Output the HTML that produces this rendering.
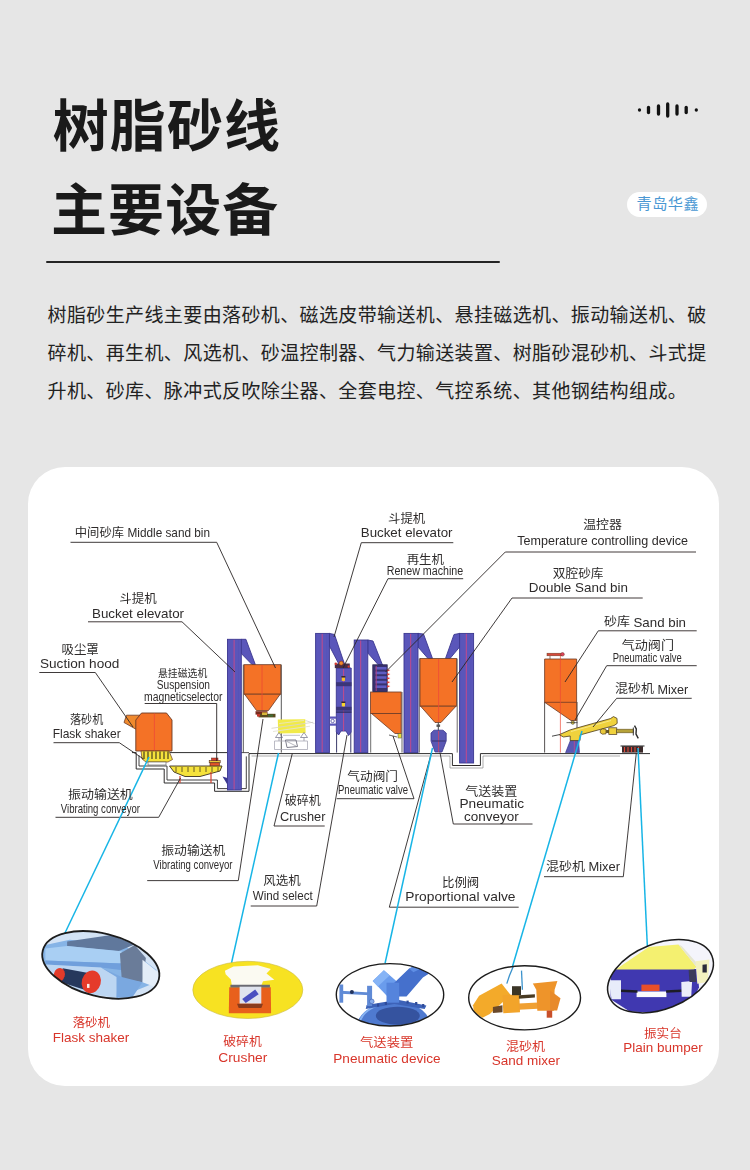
<!DOCTYPE html>
<html lang="zh-CN">
<head>
<meta charset="utf-8">
<title>树脂砂线主要设备</title>
<style>
*{margin:0;padding:0;box-sizing:border-box}
html,body{width:750px;height:1170px;background:#e6e6e6;overflow:hidden}
body{position:relative;font-family:"Liberation Sans","Noto Sans CJK SC",sans-serif;color:#1c1c1c}
.title{position:absolute;left:52.7px;top:84.2px;font-size:56px;line-height:85px;font-weight:700;color:#1a1a1a;white-space:nowrap;letter-spacing:1.1px}
.t2{left:51px;top:167.8px}
.rule{position:absolute;left:46.3px;top:261.3px;width:453.8px;height:1.9px;background:#242424;border-radius:1px}
.wave{position:absolute;left:630px;top:95px;width:80px;height:30px}
.pill{position:absolute;left:627px;top:192px;width:80px;height:25px;border-radius:13px;background:#fff;color:#4a98d3;font-size:15.2px;line-height:24px;text-align:center;letter-spacing:0.5px;padding-left:1.7px;white-space:nowrap}
.desc{position:absolute;left:47.6px;top:297px;width:690px;font-size:19px;letter-spacing:0.38px;line-height:38px;color:#222;white-space:nowrap}
.card{position:absolute;left:28.4px;top:466.8px;width:690.6px;height:619px;border-radius:37px;background:#fff;overflow:hidden}
.card svg{position:absolute;left:-28.4px;top:-466.8px}
</style>
</head>
<body>
<div class="title">树脂砂线</div>
<div class="title t2">主要设备</div>
<div class="rule"></div>
<svg class="wave" viewBox="630 95 80 30">
<g stroke="#111" stroke-width="3.3" stroke-linecap="round">
<line x1="639.5" y1="110" x2="639.5" y2="110"/>
<line x1="648.5" y1="107.5" x2="648.5" y2="112.5"/>
<line x1="658.5" y1="106" x2="658.5" y2="114"/>
<line x1="667.7" y1="104" x2="667.7" y2="116"/>
<line x1="677" y1="106" x2="677" y2="114"/>
<line x1="686.2" y1="107.5" x2="686.2" y2="112.5"/>
<line x1="696.3" y1="110" x2="696.3" y2="110"/>
</g>
</svg>
<div class="pill">青岛华鑫</div>
<div class="desc">树脂砂生产线主要由落砂机、磁选皮带输送机、悬挂磁选机、振动输送机、破<br>碎机、再生机、风选机、砂温控制器、气力输送装置、树脂砂混砂机、斗式提<br>升机、砂库、脉冲式反吹除尘器、全套电控、气控系统、其他钢结构组成。</div>
<div class="card">
<svg width="750" height="1170" viewBox="0 0 750 1170" font-family="'Liberation Sans','Noto Sans CJK SC',sans-serif">
<defs><filter id="soft" x="-2%" y="-2%" width="104%" height="104%"><feGaussianBlur stdDeviation="0.4"/></filter></defs>
<g filter="url(#soft)">
<g id="ground">
<polyline points="132.0,752.6 136.2,752.6 136.2,769.0 164.2,769.0 164.2,783.0 214.6,783.0 214.6,791.3 249.0,791.3 249.0,753.6 452.4,753.6 452.4,765.5 480.4,765.5 480.4,753.6 650.0,753.6" fill="none" stroke="#2e2c2c" stroke-width="1.0"/>
<polyline points="139.0,755.5 139.0,766.0 167.0,766.0 167.0,780.0 217.4,780.0 217.4,788.6 246.3,788.6 246.3,756.4" fill="none" stroke="#2e2c2c" stroke-width="0.9"/>
<polyline points="251.5,756.0 450.0,756.0 450.0,768.0 483.0,768.0 483.0,756.0 620.0,756.0" fill="none" stroke="#777" stroke-width="0.6"/>
<line x1="170.0" y1="752.6" x2="227.0" y2="752.6" stroke="#2e2c2c" stroke-width="1.0"/>
<line x1="241.0" y1="752.6" x2="249.0" y2="752.6" stroke="#2e2c2c" stroke-width="0.8"/>
</g>
<g id="elev">
<polygon points="241.3,639.3 245.9,639.3 255.3,664.5 252.0,664.5 241.3,653.5" fill="#5a56ba" stroke="#3b3790" stroke-width="0.9" stroke-linejoin="round"/>
<rect x="227.5" y="639.3" width="13.8" height="150.7" fill="#5a56ba" stroke="#3b3790" stroke-width="0.9"/>
<line x1="234.1" y1="639.8" x2="234.1" y2="789.5" stroke="#cf4a86" stroke-width="0.9"/>
<line x1="238.5" y1="640.3" x2="238.5" y2="789.0" stroke="#5652b8" stroke-width="0.8"/>
<polygon points="329.4,633.4 334.5,634.5 344.5,664.0 341.0,668.0 329.4,646.0" fill="#5a56ba" stroke="#3b3790" stroke-width="0.9" stroke-linejoin="round"/>
<rect x="315.6" y="633.4" width="13.8" height="119.2" fill="#5a56ba" stroke="#3b3790" stroke-width="0.9"/>
<line x1="322.2" y1="633.9" x2="322.2" y2="752.1" stroke="#cf4a86" stroke-width="0.9"/>
<line x1="326.6" y1="634.4" x2="326.6" y2="751.6" stroke="#5652b8" stroke-width="0.8"/>
<polygon points="367.8,640.0 373.0,641.0 382.5,665.0 378.5,665.0 367.8,653.0" fill="#5a56ba" stroke="#3b3790" stroke-width="0.9" stroke-linejoin="round"/>
<rect x="354.2" y="640.0" width="13.6" height="112.6" fill="#5a56ba" stroke="#3b3790" stroke-width="0.9"/>
<line x1="360.7" y1="640.5" x2="360.7" y2="752.1" stroke="#cf4a86" stroke-width="0.9"/>
<line x1="365.0" y1="641.0" x2="365.0" y2="751.6" stroke="#5652b8" stroke-width="0.8"/>
<polygon points="418.0,633.4 423.5,634.0 432.5,658.5 428.0,658.5 418.0,647.0" fill="#5a56ba" stroke="#3b3790" stroke-width="0.9" stroke-linejoin="round"/>
<rect x="404.0" y="633.4" width="14.0" height="119.2" fill="#5a56ba" stroke="#3b3790" stroke-width="0.9"/>
<line x1="410.7" y1="633.9" x2="410.7" y2="752.1" stroke="#cf4a86" stroke-width="0.9"/>
<line x1="415.2" y1="634.4" x2="415.2" y2="751.6" stroke="#5652b8" stroke-width="0.8"/>
<polygon points="459.6,633.4 454.0,634.5 445.5,658.5 450.0,658.5 459.6,647.0" fill="#5a56ba" stroke="#3b3790" stroke-width="0.9" stroke-linejoin="round"/>
<rect x="459.6" y="633.4" width="14.0" height="129.6" fill="#5a56ba" stroke="#3b3790" stroke-width="0.9"/>
<line x1="466.3" y1="633.9" x2="466.3" y2="762.5" stroke="#cf4a86" stroke-width="0.9"/>
<line x1="470.8" y1="634.4" x2="470.8" y2="762.0" stroke="#5652b8" stroke-width="0.8"/>
</g>
<g id="bins">
<line x1="243.3" y1="664.7" x2="243.3" y2="752.6" stroke="#2e2c2c" stroke-width="0.8"/>
<line x1="281.3" y1="664.7" x2="281.3" y2="752.6" stroke="#2e2c2c" stroke-width="0.8"/>
<rect x="244.0" y="664.7" width="36.8" height="29.5" fill="#f47226" stroke="#6b3a26" stroke-width="0.8"/>
<polygon points="244.6,694.2 280.2,694.2 268.5,710.5 256.5,710.5" fill="#f47226" stroke="#6b3a26" stroke-width="0.8" stroke-linejoin="round"/>
<line x1="262.0" y1="665.0" x2="262.0" y2="710.0" stroke="#ee4a36" stroke-width="0.8"/>
<rect x="255.5" y="711.2" width="12.0" height="3.4" fill="#7a2a1e"/>
<rect x="258.5" y="713.8" width="17.0" height="3.6" fill="#5a4a1e"/>
<rect x="262.0" y="712.4" width="5.0" height="2.6" fill="#d8b83a"/>
<rect x="268.0" y="714.6" width="5.0" height="2.0" fill="#3e6a34"/>
<rect x="257.0" y="714.0" width="3.0" height="2.6" fill="#c2382a"/>
<line x1="370.7" y1="713.0" x2="370.7" y2="752.6" stroke="#2e2c2c" stroke-width="0.7"/>
<line x1="402.0" y1="692.0" x2="402.0" y2="752.6" stroke="#2e2c2c" stroke-width="0.7"/>
<rect x="370.6" y="692.0" width="30.6" height="21.5" fill="#f47226" stroke="#6b3a26" stroke-width="0.8"/>
<polygon points="371.5,713.5 401.2,713.5 401.2,733.5 395.0,733.5" fill="#f47226" stroke="#6b3a26" stroke-width="0.8" stroke-linejoin="round"/>
<line x1="419.3" y1="658.6" x2="419.3" y2="752.6" stroke="#2e2c2c" stroke-width="0.7"/>
<line x1="457.2" y1="658.6" x2="457.2" y2="752.6" stroke="#2e2c2c" stroke-width="0.7"/>
<rect x="420.0" y="658.6" width="36.5" height="47.6" fill="#f47226" stroke="#6b3a26" stroke-width="0.8"/>
<polygon points="420.6,706.2 456.0,706.2 441.0,722.5 435.0,722.5" fill="#f47226" stroke="#6b3a26" stroke-width="0.8" stroke-linejoin="round"/>
<line x1="438.6" y1="659.0" x2="438.6" y2="722.0" stroke="#ee4a36" stroke-width="0.8"/>
<line x1="544.6" y1="702.0" x2="544.6" y2="752.6" stroke="#2e2c2c" stroke-width="0.8"/>
<line x1="577.0" y1="702.0" x2="577.0" y2="752.6" stroke="#2e2c2c" stroke-width="0.8"/>
<polygon points="544.6,659.0 576.6,659.0 576.6,720.5 571.0,720.5 544.6,702.3" fill="#f47226" stroke="#6b3a26" stroke-width="0.8" stroke-linejoin="round"/>
<line x1="544.6" y1="702.3" x2="576.6" y2="702.3" stroke="#6b3a26" stroke-width="0.8"/>
<line x1="560.4" y1="654.0" x2="560.4" y2="752.6" stroke="#ee4a36" stroke-width="0.7"/>
<rect x="547.0" y="653.2" width="15.0" height="2.6" fill="#d84a3a" stroke="#6b3a26" stroke-width="0.5"/>
<circle cx="562.5" cy="654.3" r="1.8" fill="#e0405a" stroke="#6b3a26" stroke-width="0.5"/>
<line x1="550.0" y1="656.0" x2="550.0" y2="659.0" stroke="#6b3a26" stroke-width="0.7"/>
</g>
<g id="mach">
<polygon points="126.5,715.2 140.0,715.2 136.5,729.5 124.0,722.5" fill="#f08a2e" stroke="#6b3a26" stroke-width="0.8" stroke-linejoin="round"/>
<polygon points="135.8,720.0 141.5,713.0 166.5,713.0 172.0,720.0 172.0,751.0 135.8,751.0" fill="#f47226" stroke="#6b3a26" stroke-width="0.9" stroke-linejoin="round"/>
<line x1="154.4" y1="713.5" x2="154.4" y2="751.0" stroke="#ee4a36" stroke-width="0.8"/>
<polygon points="141.0,751.0 169.0,751.0 172.5,759.5 168.0,762.0 146.0,762.0 142.0,759.0" fill="#f5e23a" stroke="#6b3a26" stroke-width="0.7" stroke-linejoin="round"/>
<line x1="144.0" y1="751.5" x2="144.0" y2="759.0" stroke="#4a4020" stroke-width="1.2"/>
<line x1="148.0" y1="751.5" x2="148.0" y2="759.0" stroke="#4a4020" stroke-width="1.2"/>
<line x1="152.0" y1="751.5" x2="152.0" y2="759.0" stroke="#4a4020" stroke-width="1.2"/>
<line x1="156.0" y1="751.5" x2="156.0" y2="759.0" stroke="#4a4020" stroke-width="1.2"/>
<line x1="160.0" y1="751.5" x2="160.0" y2="759.0" stroke="#4a4020" stroke-width="1.2"/>
<line x1="164.0" y1="751.5" x2="164.0" y2="759.0" stroke="#4a4020" stroke-width="1.2"/>
<line x1="168.0" y1="751.5" x2="168.0" y2="759.0" stroke="#4a4020" stroke-width="1.2"/>
<rect x="148.0" y="762.0" width="18.0" height="3.0" fill="#fff" stroke="#555" stroke-width="0.6"/>
<polygon points="169.5,766.0 222.0,766.0 220.0,771.0 200.0,776.5 185.0,776.5 174.0,772.0" fill="#f5e23a" stroke="#3a3020" stroke-width="0.9" stroke-linejoin="round"/>
<line x1="176.0" y1="767.0" x2="176.0" y2="772.0" stroke="#5a4a20" stroke-width="0.9"/>
<line x1="182.0" y1="767.0" x2="182.0" y2="772.0" stroke="#5a4a20" stroke-width="0.9"/>
<line x1="188.0" y1="767.0" x2="188.0" y2="772.0" stroke="#5a4a20" stroke-width="0.9"/>
<line x1="194.0" y1="767.0" x2="194.0" y2="772.0" stroke="#5a4a20" stroke-width="0.9"/>
<line x1="200.0" y1="767.0" x2="200.0" y2="772.0" stroke="#5a4a20" stroke-width="0.9"/>
<line x1="206.0" y1="767.0" x2="206.0" y2="772.0" stroke="#5a4a20" stroke-width="0.9"/>
<line x1="212.0" y1="767.0" x2="212.0" y2="772.0" stroke="#5a4a20" stroke-width="0.9"/>
<line x1="218.0" y1="767.0" x2="218.0" y2="772.0" stroke="#5a4a20" stroke-width="0.9"/>
<line x1="180.0" y1="776.0" x2="180.0" y2="783.0" stroke="#d8402e" stroke-width="1.2"/>
<line x1="211.0" y1="772.0" x2="211.0" y2="783.0" stroke="#d8402e" stroke-width="1.2"/>
<polygon points="222.5,776.5 227.3,778.0 227.3,784.5" fill="#3b3790"/>
<rect x="209.2" y="760.6" width="11.0" height="2.2" fill="#e8c83a" stroke="#5a2a20" stroke-width="0.6"/>
<rect x="210.0" y="762.8" width="9.5" height="3.0" fill="#e4552a" stroke="#5a2a20" stroke-width="0.6"/>
<rect x="211.5" y="758.0" width="6.5" height="2.6" fill="#d8402e" stroke="#5a2a20" stroke-width="0.5"/>
<polygon points="277.8,719.6 305.3,719.2 305.6,733.0 278.2,733.6" fill="#f1ea4a"/>
<line x1="271.5" y1="728.3" x2="313.0" y2="722.3" stroke="#d9d6c6" stroke-width="0.9"/>
<line x1="273.0" y1="731.5" x2="310.0" y2="726.2" stroke="#e4e1d2" stroke-width="0.9"/>
<line x1="279.0" y1="723.6" x2="304.0" y2="720.4" stroke="#e9e6c8" stroke-width="0.8"/>
<line x1="305.5" y1="720.5" x2="314.5" y2="723.5" stroke="#c9c9c9" stroke-width="0.7"/>
<polyline points="275.5,737.5 279.0,732.5 282.5,737.5 275.5,737.5" fill="none" stroke="#6f6f86" stroke-width="0.7"/>
<polyline points="300.5,737.5 304.0,732.5 307.5,737.5 300.5,737.5" fill="none" stroke="#6f6f86" stroke-width="0.7"/>
<line x1="279.0" y1="737.5" x2="279.0" y2="741.0" stroke="#8a8a9a" stroke-width="0.8"/>
<line x1="304.0" y1="737.5" x2="304.0" y2="741.0" stroke="#8a8a9a" stroke-width="0.8"/>
<polyline points="274.5,741.0 307.5,741.0 307.5,749.5 274.5,749.5 274.5,741.0" fill="none" stroke="#a9a9b6" stroke-width="0.8"/>
<polyline points="285.5,740.0 296.0,740.0 297.5,746.5 287.0,747.5 285.5,740.0" fill="none" stroke="#70707f" stroke-width="0.9"/>
<line x1="287.0" y1="741.5" x2="296.0" y2="746.0" stroke="#9a9aa5" stroke-width="0.7"/>
<line x1="283.0" y1="735.3" x2="300.0" y2="735.3" stroke="#a5a5b0" stroke-width="0.7"/>
<line x1="336.6" y1="732.0" x2="336.6" y2="752.6" stroke="#3a3a6a" stroke-width="1.0"/>
<line x1="350.8" y1="732.0" x2="350.8" y2="752.6" stroke="#3a3a6a" stroke-width="1.0"/>
<polygon points="336.3,668.0 351.2,668.0 351.2,732.0 348.6,735.5 346.0,731.0 341.0,731.0 338.6,735.0 336.3,732.0" fill="#5a56ba" stroke="#3b3790" stroke-width="0.9" stroke-linejoin="round"/>
<line x1="343.6" y1="669.0" x2="343.6" y2="731.0" stroke="#cf4a86" stroke-width="0.9"/>
<rect x="336.0" y="682.2" width="15.5" height="4.0" fill="#3b3578"/>
<rect x="336.0" y="706.8" width="15.5" height="3.8" fill="#3b3578"/>
<rect x="336.0" y="711.5" width="15.5" height="1.2" fill="#2c2a5a"/>
<rect x="341.8" y="677.3" width="3.2" height="3.6" fill="#f8c22e"/>
<rect x="341.4" y="676.0" width="4.0" height="1.5" fill="#3a2a2a"/>
<rect x="341.8" y="702.8" width="3.2" height="3.6" fill="#f8d62e"/>
<rect x="341.4" y="701.5" width="4.0" height="1.5" fill="#3a2a2a"/>
<rect x="334.8" y="663.5" width="15.0" height="4.6" fill="#4a2f45"/>
<circle cx="341.2" cy="663.2" r="2.1" fill="#f08a2a" stroke="#7a2a20" stroke-width="0.6"/>
<circle cx="335.8" cy="663.8" r="1.2" fill="#d8382e"/>
<circle cx="348.6" cy="666.6" r="1.1" fill="#d8382e"/>
<rect x="330.0" y="716.5" width="6.0" height="2.2" fill="#5a56ba"/>
<rect x="330.0" y="723.5" width="6.0" height="2.2" fill="#5a56ba"/>
<circle cx="332.6" cy="721" r="1.7" fill="#fff" stroke="#4a46a0" stroke-width="0.8"/>
<rect x="372.8" y="664.8" width="14.4" height="26.8" fill="#37326e" stroke="#2a2650" stroke-width="0.8"/>
<rect x="375.5" y="667.0" width="11.0" height="2.6" fill="#5f5bc2"/>
<rect x="375.5" y="671.6" width="11.0" height="2.6" fill="#5f5bc2"/>
<rect x="375.5" y="676.2" width="11.0" height="2.6" fill="#5f5bc2"/>
<rect x="375.5" y="680.8" width="11.0" height="2.6" fill="#5f5bc2"/>
<rect x="375.5" y="685.4" width="11.0" height="2.6" fill="#5f5bc2"/>
<line x1="376.2" y1="666.0" x2="376.2" y2="691.0" stroke="#b8407a" stroke-width="0.9"/>
<polygon points="387.2,669.2 390.3,670.1 387.2,671.8" fill="#e0352e"/>
<polygon points="387.2,673.2 390.3,674.1 387.2,675.8" fill="#e0352e"/>
<polygon points="387.2,677.2 390.3,678.1 387.2,679.8" fill="#e0352e"/>
<polygon points="387.2,681.2 390.3,682.1 387.2,683.8" fill="#e0352e"/>
<polygon points="387.2,685.2 390.3,686.1 387.2,687.8" fill="#e0352e"/>
<rect x="398.0" y="733.5" width="3.4" height="4.5" fill="#e8e03a" stroke="#444" stroke-width="0.5"/>
<polyline points="389.0,735.0 397.0,737.0" fill="none" stroke="#444" stroke-width="0.8"/>
<line x1="438.3" y1="722.5" x2="438.3" y2="731.0" stroke="#444" stroke-width="1.0"/>
<rect x="436.5" y="724.5" width="3.6" height="2.4" fill="#555"/>
<polygon points="431.0,733.0 434.0,730.2 443.0,730.2 446.2,733.0 446.2,741.0 442.0,752.0 435.0,752.0 431.0,741.0" fill="#5a58b4" stroke="#3b3790" stroke-width="0.8" stroke-linejoin="round"/>
<line x1="438.6" y1="731.0" x2="438.6" y2="752.0" stroke="#e0405a" stroke-width="0.7"/>
<line x1="432.0" y1="741.0" x2="445.5" y2="741.0" stroke="#2c2a5a" stroke-width="0.8"/>
<polygon points="565.6,752.6 570.4,740.5 578.6,740.5 579.4,752.6" fill="#5a58b4" stroke="#3b3790" stroke-width="0.7" stroke-linejoin="round"/>
<line x1="574.3" y1="741.0" x2="574.3" y2="752.0" stroke="#cf4a86" stroke-width="0.7"/>
<polygon points="559.2,734.7 570.4,729.8 610.4,718.6 613.5,716.6 617.0,718.4 617.2,723.4 614.0,725.6 580.2,734.9 580.0,740.6 570.2,740.6 570.2,736.0 563.5,737.0" fill="#f0d23c" stroke="#4a3a20" stroke-width="0.8" stroke-linejoin="round"/>
<line x1="571.0" y1="731.5" x2="611.0" y2="720.5" stroke="#f7e990" stroke-width="0.9"/>
<polygon points="600.3,730.2 602.5,728.8 606.0,729.2 606.0,733.8 602.5,734.2 600.3,732.8" fill="#e8c83a" stroke="#4a3a20" stroke-width="0.7" stroke-linejoin="round"/>
<rect x="606.0" y="730.0" width="3.0" height="3.0" fill="#6a5a2a"/>
<rect x="608.8" y="727.8" width="8.0" height="6.6" fill="#f0d23c" stroke="#4a3a20" stroke-width="0.7"/>
<rect x="616.8" y="729.2" width="16.5" height="3.6" fill="#d8c040" stroke="#4a3a20" stroke-width="0.6"/>
<line x1="618.0" y1="731.0" x2="633.0" y2="731.0" stroke="#7a6a2a" stroke-width="0.7"/>
<polyline points="634.5,725.6 636.3,729.0 636.0,734.0 638.3,738.4" fill="none" stroke="#2a2a2a" stroke-width="1.4"/>
<line x1="633.3" y1="727.5" x2="633.3" y2="735.5" stroke="#3a3a3a" stroke-width="1.0"/>
<polyline points="552.0,736.2 559.5,734.6" fill="none" stroke="#333" stroke-width="0.9"/>
<circle cx="572.8" cy="722.6" r="1.7" fill="#e8d23a" stroke="#333" stroke-width="0.6"/>
<polyline points="566.5,722.6 577.5,722.6" fill="none" stroke="#333" stroke-width="0.7"/>
<rect x="622.0" y="746.2" width="21.0" height="6.4" fill="#3a2a2a"/>
<line x1="624.5" y1="747.0" x2="624.5" y2="752.0" stroke="#e04a3a" stroke-width="1.1"/>
<line x1="628.0" y1="747.0" x2="628.0" y2="752.0" stroke="#e04a3a" stroke-width="1.1"/>
<line x1="631.5" y1="747.0" x2="631.5" y2="752.0" stroke="#e04a3a" stroke-width="1.1"/>
<line x1="635.0" y1="747.0" x2="635.0" y2="752.0" stroke="#e04a3a" stroke-width="1.1"/>
<line x1="638.5" y1="747.0" x2="638.5" y2="752.0" stroke="#e04a3a" stroke-width="1.1"/>
<line x1="620.5" y1="746.0" x2="644.5" y2="746.0" stroke="#222" stroke-width="1.0"/>
</g>
<g id="leaders">
<polyline points="70.5,542.3 216.7,542.3 275.5,668.0" fill="none" stroke="#2a2626" stroke-width="0.9" stroke-linejoin="round"/>
<polyline points="88.0,621.8 182.0,621.8 235.0,672.0" fill="none" stroke="#2a2626" stroke-width="0.9" stroke-linejoin="round"/>
<polyline points="39.3,672.5 95.3,672.5 133.0,727.0" fill="none" stroke="#2a2626" stroke-width="0.9" stroke-linejoin="round"/>
<polyline points="144.7,703.5 216.7,703.5 216.7,761.0" fill="none" stroke="#2a2626" stroke-width="0.9" stroke-linejoin="round"/>
<polyline points="53.5,742.7 119.3,742.7 143.5,759.0" fill="none" stroke="#2a2626" stroke-width="0.9" stroke-linejoin="round"/>
<polyline points="55.5,817.3 158.7,817.3 180.5,778.0" fill="none" stroke="#2a2626" stroke-width="0.9" stroke-linejoin="round"/>
<polyline points="147.2,880.6 238.3,880.6 263.0,719.0" fill="none" stroke="#2a2626" stroke-width="0.9" stroke-linejoin="round"/>
<polyline points="324.7,826.0 274.0,826.0 292.3,753.5" fill="none" stroke="#2a2626" stroke-width="0.9" stroke-linejoin="round"/>
<polyline points="250.7,906.0 316.7,906.0 347.0,735.0" fill="none" stroke="#2a2626" stroke-width="0.9" stroke-linejoin="round"/>
<polyline points="336.7,798.7 414.0,798.7 393.0,736.0" fill="none" stroke="#2a2626" stroke-width="0.9" stroke-linejoin="round"/>
<polyline points="532.5,824.0 453.3,824.0 440.0,752.5" fill="none" stroke="#2a2626" stroke-width="0.9" stroke-linejoin="round"/>
<polyline points="518.7,907.2 389.3,907.2 431.5,752.5" fill="none" stroke="#2a2626" stroke-width="0.9" stroke-linejoin="round"/>
<polyline points="544.0,876.7 623.3,876.7 636.3,753.0" fill="none" stroke="#2a2626" stroke-width="0.9" stroke-linejoin="round"/>
<polyline points="453.3,542.7 361.3,542.7 334.0,637.0" fill="none" stroke="#2a2626" stroke-width="0.9" stroke-linejoin="round"/>
<polyline points="463.2,578.7 388.0,578.7 343.0,668.0" fill="none" stroke="#2a2626" stroke-width="0.9" stroke-linejoin="round"/>
<polyline points="696.0,552.0 505.3,552.0 385.5,672.0" fill="none" stroke="#2a2626" stroke-width="0.9" stroke-linejoin="round"/>
<polyline points="642.7,598.0 512.0,598.0 452.0,682.0" fill="none" stroke="#2a2626" stroke-width="0.9" stroke-linejoin="round"/>
<polyline points="696.7,630.8 598.3,630.8 565.0,682.0" fill="none" stroke="#2a2626" stroke-width="0.9" stroke-linejoin="round"/>
<polyline points="696.7,665.7 606.7,665.7 575.0,720.0" fill="none" stroke="#2a2626" stroke-width="0.9" stroke-linejoin="round"/>
<polyline points="691.7,698.3 616.7,698.3 593.0,727.0" fill="none" stroke="#2a2626" stroke-width="0.9" stroke-linejoin="round"/>
</g>
<g id="cyan">
<polyline points="149.0,757.0 64.5,934.0" fill="none" stroke="#19b5e6" stroke-width="1.5"/>
<polyline points="278.5,753.0 231.5,963.0" fill="none" stroke="#19b5e6" stroke-width="1.5"/>
<polyline points="432.5,748.0 385.0,963.5" fill="none" stroke="#19b5e6" stroke-width="1.5"/>
<polyline points="582.0,731.0 512.5,966.5" fill="none" stroke="#19b5e6" stroke-width="1.5"/>
<polyline points="638.0,748.0 647.5,949.5" fill="none" stroke="#19b5e6" stroke-width="1.5"/>
</g>
<g id="labels">
<text x="74.8" y="536.6" font-size="12.2" textLength="49.2" lengthAdjust="spacingAndGlyphs" fill="#2e2c2c">中间砂库</text>
<text x="127.5" y="537.0" font-size="13.4" textLength="82.5" lengthAdjust="spacingAndGlyphs" fill="#2e2c2c">Middle sand bin</text>
<text x="119.3" y="603.4" font-size="12.2" textLength="37.4" lengthAdjust="spacingAndGlyphs" fill="#2e2c2c">斗提机</text>
<text x="92.0" y="618.2" font-size="13.4" textLength="92.0" lengthAdjust="spacingAndGlyphs" fill="#2e2c2c">Bucket elevator</text>
<text x="61.5" y="654.2" font-size="12.2" textLength="37.3" lengthAdjust="spacingAndGlyphs" fill="#2e2c2c">吸尘罩</text>
<text x="40.0" y="668.2" font-size="13.4" textLength="79.3" lengthAdjust="spacingAndGlyphs" fill="#2e2c2c">Suction hood</text>
<text x="158.0" y="677.0" font-size="10.5" textLength="49.3" lengthAdjust="spacingAndGlyphs" fill="#2e2c2c">悬挂磁选机</text>
<text x="156.7" y="689.3" font-size="12.5" textLength="53.3" lengthAdjust="spacingAndGlyphs" fill="#2e2c2c">Suspension</text>
<text x="144.0" y="700.6" font-size="12.5" textLength="78.5" lengthAdjust="spacingAndGlyphs" fill="#2e2c2c">magneticselector</text>
<text x="70.0" y="724.4" font-size="12.2" textLength="33.3" lengthAdjust="spacingAndGlyphs" fill="#2e2c2c">落砂机</text>
<text x="52.7" y="738.3" font-size="13.4" textLength="68.0" lengthAdjust="spacingAndGlyphs" fill="#2e2c2c">Flask shaker</text>
<text x="68.0" y="799.3" font-size="12.2" textLength="64.8" lengthAdjust="spacingAndGlyphs" fill="#2e2c2c">振动输送机</text>
<text x="60.8" y="812.7" font-size="12.2" textLength="79.2" lengthAdjust="spacingAndGlyphs" fill="#2e2c2c">Vibrating conveyor</text>
<text x="161.3" y="855.3" font-size="12.2" textLength="64.0" lengthAdjust="spacingAndGlyphs" fill="#2e2c2c">振动输送机</text>
<text x="153.3" y="868.7" font-size="12.2" textLength="79.2" lengthAdjust="spacingAndGlyphs" fill="#2e2c2c">Vibrating conveyor</text>
<text x="284.7" y="805.4" font-size="12.2" textLength="36.0" lengthAdjust="spacingAndGlyphs" fill="#2e2c2c">破碎机</text>
<text x="280.0" y="821.0" font-size="13.4" textLength="45.5" lengthAdjust="spacingAndGlyphs" fill="#2e2c2c">Crusher</text>
<text x="347.3" y="781.4" font-size="12.2" textLength="50.7" lengthAdjust="spacingAndGlyphs" fill="#2e2c2c">气动阀门</text>
<text x="338.0" y="794.3" font-size="12.8" textLength="70.0" lengthAdjust="spacingAndGlyphs" fill="#2e2c2c">Pneumatic valve</text>
<text x="263.3" y="884.6" font-size="12.2" textLength="37.4" lengthAdjust="spacingAndGlyphs" fill="#2e2c2c">风选机</text>
<text x="252.7" y="899.5" font-size="13.4" textLength="60.0" lengthAdjust="spacingAndGlyphs" fill="#2e2c2c">Wind select</text>
<text x="465.3" y="796.0" font-size="12.2" textLength="52.0" lengthAdjust="spacingAndGlyphs" fill="#2e2c2c">气送装置</text>
<text x="459.5" y="808.3" font-size="13.4" textLength="64.5" lengthAdjust="spacingAndGlyphs" fill="#2e2c2c">Pneumatic</text>
<text x="464.0" y="820.6" font-size="13.4" textLength="54.7" lengthAdjust="spacingAndGlyphs" fill="#2e2c2c">conveyor</text>
<text x="442.0" y="887.3" font-size="12.2" textLength="37.2" lengthAdjust="spacingAndGlyphs" fill="#2e2c2c">比例阀</text>
<text x="405.3" y="900.5" font-size="13.4" textLength="110.2" lengthAdjust="spacingAndGlyphs" fill="#2e2c2c">Proportional valve</text>
<text x="546.0" y="870.6" font-size="12.2" textLength="39.0" lengthAdjust="spacingAndGlyphs" fill="#2e2c2c">混砂机</text>
<text x="588.5" y="871.3" font-size="13.4" textLength="31.5" lengthAdjust="spacingAndGlyphs" fill="#2e2c2c">Mixer</text>
<text x="388.0" y="522.8" font-size="12.2" textLength="37.3" lengthAdjust="spacingAndGlyphs" fill="#2e2c2c">斗提机</text>
<text x="360.8" y="537.2" font-size="13.4" textLength="91.7" lengthAdjust="spacingAndGlyphs" fill="#2e2c2c">Bucket elevator</text>
<text x="406.7" y="563.5" font-size="12.2" textLength="37.3" lengthAdjust="spacingAndGlyphs" fill="#2e2c2c">再生机</text>
<text x="386.7" y="574.5" font-size="12.5" textLength="76.5" lengthAdjust="spacingAndGlyphs" fill="#2e2c2c">Renew machine</text>
<text x="583.2" y="529.2" font-size="12.2" textLength="38.8" lengthAdjust="spacingAndGlyphs" fill="#2e2c2c">温控器</text>
<text x="517.3" y="545.0" font-size="13.4" textLength="170.7" lengthAdjust="spacingAndGlyphs" fill="#2e2c2c">Temperature controlling device</text>
<text x="552.8" y="578.0" font-size="12.2" textLength="50.7" lengthAdjust="spacingAndGlyphs" fill="#2e2c2c">双腔砂库</text>
<text x="528.8" y="591.8" font-size="13.4" textLength="99.2" lengthAdjust="spacingAndGlyphs" fill="#2e2c2c">Double Sand bin</text>
<text x="604.0" y="626.0" font-size="12.2" textLength="26.0" lengthAdjust="spacingAndGlyphs" fill="#2e2c2c">砂库</text>
<text x="633.5" y="626.5" font-size="13.4" textLength="52.5" lengthAdjust="spacingAndGlyphs" fill="#2e2c2c">Sand bin</text>
<text x="621.7" y="650.0" font-size="12.2" textLength="52.3" lengthAdjust="spacingAndGlyphs" fill="#2e2c2c">气动阀门</text>
<text x="612.7" y="662.3" font-size="12.8" textLength="69.0" lengthAdjust="spacingAndGlyphs" fill="#2e2c2c">Pneumatic valve</text>
<text x="615.0" y="693.0" font-size="12.2" textLength="39.0" lengthAdjust="spacingAndGlyphs" fill="#2e2c2c">混砂机</text>
<text x="657.5" y="693.6" font-size="13.4" textLength="30.8" lengthAdjust="spacingAndGlyphs" fill="#2e2c2c">Mixer</text>
</g>
<g id="caps">
<text x="72.7" y="1027.1" font-size="12.2" textLength="37.3" lengthAdjust="spacingAndGlyphs" fill="#d8352a">落砂机</text>
<text x="52.7" y="1042.3" font-size="13.4" textLength="76.6" lengthAdjust="spacingAndGlyphs" fill="#d8352a">Flask shaker</text>
<text x="223.3" y="1046.3" font-size="12.2" textLength="38.4" lengthAdjust="spacingAndGlyphs" fill="#d8352a">破碎机</text>
<text x="218.3" y="1062.3" font-size="13.4" textLength="49.0" lengthAdjust="spacingAndGlyphs" fill="#d8352a">Crusher</text>
<text x="360.0" y="1046.5" font-size="12.2" textLength="53.3" lengthAdjust="spacingAndGlyphs" fill="#d8352a">气送装置</text>
<text x="333.3" y="1063.0" font-size="13.4" textLength="107.4" lengthAdjust="spacingAndGlyphs" fill="#d8352a">Pneumatic device</text>
<text x="506.0" y="1050.5" font-size="12.2" textLength="39.0" lengthAdjust="spacingAndGlyphs" fill="#d8352a">混砂机</text>
<text x="491.7" y="1064.6" font-size="13.4" textLength="68.3" lengthAdjust="spacingAndGlyphs" fill="#d8352a">Sand mixer</text>
<text x="644.0" y="1038.4" font-size="12.2" textLength="37.7" lengthAdjust="spacingAndGlyphs" fill="#d8352a">振实台</text>
<text x="623.3" y="1051.5" font-size="13.4" textLength="79.4" lengthAdjust="spacingAndGlyphs" fill="#d8352a">Plain bumper</text>
</g>
<defs>
<clipPath id="c1"><ellipse cx="100.8" cy="964.9" rx="59.8" ry="31.5" transform="rotate(14 100.8 964.9)"/></clipPath>
<clipPath id="c2"><ellipse cx="247.8" cy="989.9" rx="55" ry="28.6"/></clipPath>
<clipPath id="c3"><ellipse cx="390" cy="994.8" rx="53.7" ry="31.2"/></clipPath>
<clipPath id="c4"><ellipse cx="524.6" cy="997.8" rx="55.9" ry="32.1"/></clipPath>
<clipPath id="c5"><ellipse cx="660.5" cy="976.2" rx="55.3" ry="32.8" transform="rotate(-21.5 660.5 976.2)"/></clipPath>
<filter id="bl" x="-5%" y="-5%" width="110%" height="110%"><feGaussianBlur stdDeviation="0.7"/></filter>
</defs>
<g clip-path="url(#c1)"><g filter="url(#bl)">
<rect x="35" y="920" width="135" height="95" fill="#d3e3f5"/>
<polygon points="41.9,945.8 69.7,939.7 125.1,945.8 156.3,970.1 156.3,982.2 118.2,997.8 41.9,977.0" fill="#86b4e6"/>
<polygon points="67.1,941.5 111.3,935.1 134.7,944.4 118.2,951.3 67.1,946.1" fill="#61789c"/>
<polygon points="45.4,948.4 67.1,946.1 121.7,951.3 122.5,963.5 45.4,960.5" fill="#a9cff3"/>
<polygon points="45.4,960.5 122.5,963.5 128.6,970.9 100.9,967.5 45.4,964.5" fill="#6f9fdc"/>
<polygon points="119.9,953.6 134.7,944.9 145.9,957.9 142.5,982.2 121.7,978.7" fill="#6b7c99"/>
<polygon points="45.4,964.5 100.9,967.5 118.2,977.0 116.5,997.8 69.7,990.9 45.4,977.0" fill="#bcd6f2"/>
<polygon points="100.9,967.5 121.7,977.0 142.5,982.2 132.1,997.8 116.5,997.8 116.5,977.0" fill="#7aa8e0"/>
<polygon points="142.5,959.7 159.8,973.5 156.3,987.4 142.5,982.2" fill="#e3edf8"/>
<polygon points="62.7,968.3 87.0,972.7 85.3,990.0 61.0,982.2" fill="#27385c"/>
<ellipse cx="59.3" cy="974.9" rx="5.5" ry="7" transform="rotate(15 59.3 974.9)" fill="#e23a2a"/>
<ellipse cx="91.3" cy="981.8" rx="9.5" ry="11.5" transform="rotate(15 91.3 981.8)" fill="#e53a2b"/>
<rect x="87.0" y="983.9" width="2.5" height="4" fill="#fbeee8"/>
<polygon points="72.3,990.0 87.0,992.9 86.1,996.1 71.4,992.9" fill="#2a3144"/>
</g></g>
<ellipse cx="100.8" cy="964.9" rx="59.8" ry="31.5" transform="rotate(14 100.8 964.9)" fill="none" stroke="#1c1c1c" stroke-width="1.8"/>
<ellipse cx="247.8" cy="989.9" rx="55" ry="28.6" fill="#f7e224" stroke="#c9b93a" stroke-width="0.6"/>
<g clip-path="url(#c2)"><g filter="url(#bl)">
<polygon points="224.9,970.8 233.5,966.5 257.8,965.3 270.8,969.1 266.5,973.4 274.3,979.8 263.0,981.2 261.3,985.5 231.8,985.5 230.9,979.5 225.7,974.3" fill="#fbfaf2"/>
<polygon points="229.2,987.3 270.8,987.3 271.1,1013.3 228.8,1013.3" fill="#e8601f"/>
<polygon points="230.4,984.7 269.9,984.7 269.9,987.4 230.4,987.4" fill="#6a6a72"/>
<polygon points="239.6,986.7 261.3,986.7 261.3,1003.7 239.6,1003.7" fill="#dfe3ee"/>
<polygon points="242.2,998.9 255.2,989.5 258.7,994.2 245.7,1002.9" fill="#4a50c0"/>
<polygon points="237.0,1003.7 263.0,1003.7 261.3,1008.1 238.7,1008.1" fill="#8a3a1a"/>
</g></g>
<ellipse cx="390" cy="994.8" rx="53.7" ry="31.2" fill="#ffffff"/>
<g clip-path="url(#c3)"><g filter="url(#bl)">
<path d="M356.2,1026.1 Q360.5,1005.6 394.3,1001.1 Q428.1,1003.2 431.6,1027.8 L356.2,1031.3 Z" fill="#4f7ad0"/>
<ellipse cx="397.8" cy="1015.7" rx="22" ry="9" fill="#35529f"/>
<path d="M359.7,1021.7 Q364.0,1008.7 382.2,1004.4" fill="none" stroke="#86b2f2" stroke-width="2"/>
<polygon points="366.6,1004.9 397.8,999.7 426.4,1005.6 424.7,1009.1 394.3,1003.9 365.7,1009.1" fill="#3c62b8"/>
<polygon points="372.7,981.0 383.9,970.3 399.2,983.6 399.2,996.6 387.0,995.9" fill="#6b9cec"/>
<polygon points="372.7,981.0 383.9,970.3 389.5,975.5 377.9,986.5" fill="#86b4f6"/>
<polygon points="394.3,982.7 409.1,968.5 430.7,958.5 439.4,967.1 422.9,977.5 406.5,996.6 394.3,996.6" fill="#4470cc"/>
<polygon points="409.1,968.5 430.7,958.5 434.2,961.9 413.4,972.3" fill="#5f8ee4"/>
<polygon points="386.5,982.7 399.2,982.7 399.2,1002.7 386.5,1002.7" fill="#5584dc"/>
<polygon points="340.3,990.7 370.4,992.4 370.4,995.2 340.3,993.8" fill="#628cd6"/>
<polygon points="339.4,984.5 343.2,984.5 343.2,1002.7 339.4,1002.7" fill="#5f8ad6"/>
<polygon points="367.1,985.8 372.1,985.8 372.1,1006.1 367.1,1006.1" fill="#5f8ad6"/>
<circle cx="351.9" cy="992.1" r="2" fill="#22305a"/>
<circle cx="371.8" cy="1001.4" r="2.3" fill="#86acec" stroke="#3a5cae" stroke-width="0.6"/>
<rect x="377.0" y="1003.7" width="2.2" height="3" fill="#2f4c9a"/>
<rect x="384.8" y="1002.0" width="2.2" height="3" fill="#2f4c9a"/>
<rect x="406.5" y="1000.6" width="2.2" height="3" fill="#2f4c9a"/>
<rect x="415.1" y="1002.0" width="2.2" height="3" fill="#2f4c9a"/>
<rect x="422.1" y="1004.0" width="2.2" height="3" fill="#2f4c9a"/>
</g></g>
<ellipse cx="390" cy="994.8" rx="53.7" ry="31.2" fill="none" stroke="#1c1c1c" stroke-width="1.4"/>
<ellipse cx="524.6" cy="997.8" rx="55.9" ry="32.1" fill="#ffffff"/>
<g clip-path="url(#c4)"><g filter="url(#bl)">
<polygon points="473.0,1005.3 479.1,995.7 501.6,983.6 510.6,994.9 489.8,1013.9 482.5,1017.7 473.9,1012.2" fill="#f3aa2c"/>
<polygon points="502.5,994.9 519.3,994.5 520.0,1012.2 503.3,1013.2" fill="#f2a42a"/>
<polygon points="518.9,1003.5 538.0,1002.5 538.0,1008.7 518.9,1009.8" fill="#f0a032"/>
<polygon points="532.8,983.6 557.4,981.0 554.6,989.7 553.9,1010.8 537.3,1010.8 536.3,989.7" fill="#ee942a"/>
<polygon points="550.1,990.5 560.5,998.3 557.1,1010.5 550.1,1010.5" fill="#e88a2a"/>
<polygon points="512.0,986.2 521.0,986.2 521.0,995.2 512.0,995.2" fill="#3a3428"/>
<polygon points="518.9,995.2 534.9,994.2 534.9,997.6 518.9,998.7" fill="#4a3a22"/>
<polygon points="546.7,1010.5 552.2,1010.5 552.2,1017.7 546.7,1017.7" fill="#c8502a"/>
<polygon points="492.9,1007.0 502.5,1005.3 502.5,1012.2 492.9,1013.1" fill="#6a4a2a"/>
<polyline points="514.1,964.5 509.4,975.8 506.8,983.6" fill="none" stroke="#3a92cc" stroke-width="1.3"/>
<polyline points="521.5,970.6 522.4,989.7" fill="none" stroke="#3a92cc" stroke-width="1.3"/>
</g></g>
<ellipse cx="524.6" cy="997.8" rx="55.9" ry="32.1" fill="none" stroke="#1c1c1c" stroke-width="1.4"/>
<g clip-path="url(#c5)"><g filter="url(#bl)">
<rect x="600" y="930" width="125" height="95" fill="#f4f4fb"/>
<polygon points="610.6,969.0 697.3,969.0 699.0,987.2 692.1,1002.8 667.8,1013.2 629.7,1011.5 610.6,999.3" fill="#3f38b0"/>
<polygon points="615.8,969.5 648.7,947.0 678.5,944.6 696.4,966.7 694.1,969.5" fill="#f4f070"/>
<polygon points="678.5,944.6 681.7,945.9 699.0,965.5 696.4,966.7" fill="#e6e6d0"/>
<polygon points="608.9,980.3 621.0,980.3 621.0,999.3 611.5,999.3" fill="#e8ecfa"/>
<polygon points="636.6,991.5 666.4,991.5 666.4,997.1 636.6,997.1" fill="#fafafd"/>
<polygon points="641.4,984.6 659.5,984.6 659.5,991.0 641.4,991.0" fill="#e8502a"/>
<polygon points="621.0,989.4 637.5,990.3 637.5,992.7 621.0,991.9" fill="#1e1e28"/>
<polygon points="666.1,990.3 681.7,989.4 681.7,991.9 666.1,992.7" fill="#1e1e28"/>
<polygon points="681.3,982.0 692.1,981.1 691.2,996.7 681.7,996.7" fill="#eceefa"/>
<polygon points="695.5,961.2 709.4,959.5 707.7,982.0 697.3,983.7" fill="#f3f1c0"/>
<polygon points="702.5,964.7 706.8,964.3 706.8,972.5 702.5,972.5" fill="#2a2a3a"/>
<polygon points="688.6,969.9 695.5,969.5 696.4,982.0 689.5,982.0" fill="#3a3a5a"/>
</g></g>
<ellipse cx="660.5" cy="976.2" rx="55.3" ry="32.8" transform="rotate(-21.5 660.5 976.2)" fill="none" stroke="#1c1c1c" stroke-width="1.5"/>

</g>
</svg>
</div>
</body>
</html>
